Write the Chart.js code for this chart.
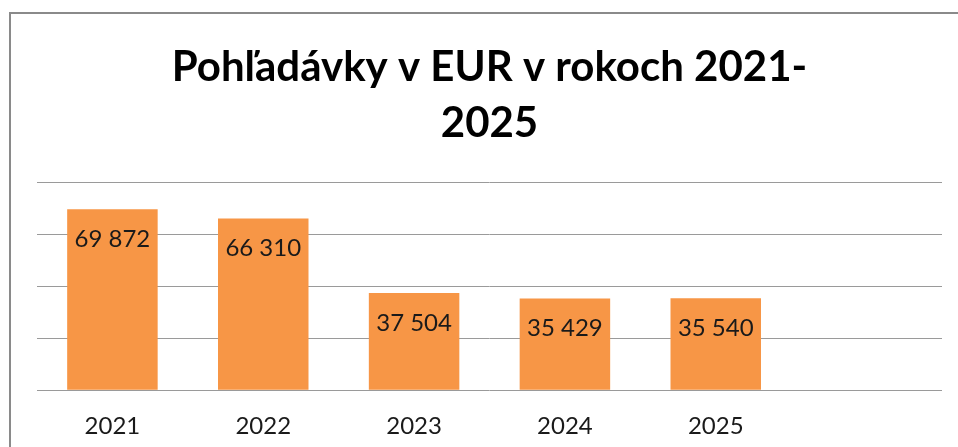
<!DOCTYPE html>
<html>
<head>
<meta charset="utf-8">
<script src="https://cdn.jsdelivr.net/npm/chart.js@4.4.6/dist/chart.umd.min.js"></script>
<style>
  html, body { margin: 0; padding: 0; background: #fff; overflow: hidden; }
  #ram { position: absolute; left: 9px; top: 12px; width: 2000px; height: 2000px; border: 2px solid #8a8a8a; }
  #obal { position: absolute; left: 0; top: 0; width: 958px; height: 455px; }
</style>
</head>
<body>
<div id="ram"></div>
<div id="obal"><canvas id="graf"></canvas></div>
<script>
// Údaje z grafu
const roky = ['2021', '2022', '2023', '2024', '2025', ''];
const pohladavky = [69872, 66310, 37504, 35429, 35540];
const nadpis = ['Pohľadávky v EUR v rokoch 2021-', '2025'];

const sMedzerou = (n) => String(n).replace(/\B(?=(\d{3})+(?!\d))/g, ' ');

// hodnoty vnútri stĺpcov, kúsok pod vrcholom
const popisky = {
  id: 'popisky',
  afterDatasetsDraw(chart) {
    const { ctx } = chart;
    const meta = chart.getDatasetMeta(0);
    ctx.save();
    ctx.font = '24px Lato';
    ctx.fillStyle = '#1a1a1a';
    ctx.textAlign = 'center';
    ctx.textBaseline = 'middle';
    meta.data.forEach((bar, i) => {
      ctx.fillText(sMedzerou(pohladavky[i]), bar.x, bar.y + 30);
    });
    ctx.restore();
  },
};

new Chart(document.getElementById('graf'), {
  type: 'bar',
  data: {
    labels: roky,
    datasets: [{
      data: pohladavky,
      backgroundColor: '#F79646',
      borderWidth: 0,
      categoryPercentage: 1,
      barPercentage: 0.6,
    }],
  },
  options: {
    responsive: true,
    maintainAspectRatio: false,
    animation: false,
    layout: { padding: { left: 37, right: 16, top: 39, bottom: 0 } },
    plugins: {
      legend: { display: false },
      tooltip: { enabled: false },
      title: {
        display: true,
        text: nadpis,
        color: '#000',
        font: { family: 'Lato', size: 42, weight: 'bold', lineHeight: 1.333 },
        padding: { top: 0, bottom: 32 },
      },
    },
    scales: {
      x: {
        grid: { display: false },
        border: { display: false },
        ticks: { color: '#1a1a1a', font: { family: 'Lato', size: 24 }, padding: 14 },
      },
      y: {
        min: 0,
        max: 80000,
        ticks: { display: false, stepSize: 20000 },
        grid: { color: '#9a9a9a', lineWidth: 1, drawTicks: false },
        border: { display: false },
      },
    },
  },
  plugins: [popisky],
});
</script>
</body>
</html>
